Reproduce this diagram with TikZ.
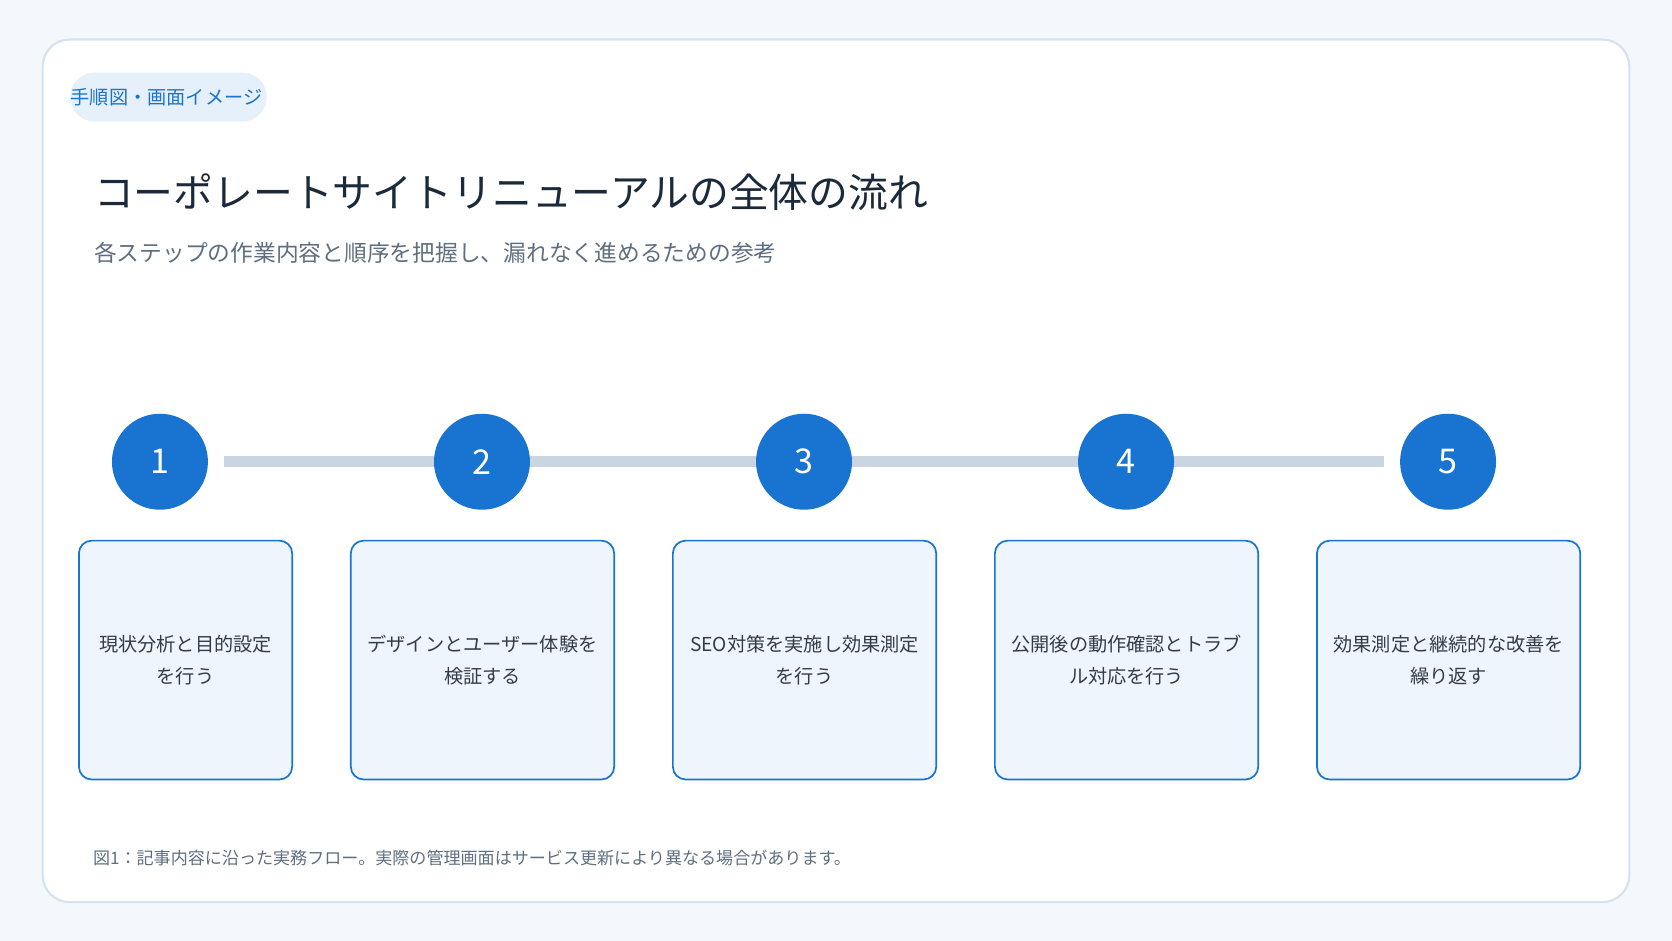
\documentclass[tikz,border=0pt]{standalone}
\usepackage{fontspec}
\setmainfont{Noto Sans CJK JP}
\definecolor{bg}{HTML}{F4F8FC}
\definecolor{cardborder}{HTML}{D6E2EE}
\definecolor{pill}{HTML}{E6F0FA}
\definecolor{blue}{HTML}{1874D0}
\definecolor{titlec}{HTML}{1B2A3A}
\definecolor{subc}{HTML}{5F6F80}
\definecolor{linec}{HTML}{C9D6E2}
\definecolor{boxfill}{HTML}{EEF5FD}
\definecolor{boxtext}{HTML}{333D48}
\begin{document}
\begin{tikzpicture}[x=0.75pt,y=-0.75pt,
  stepnode/.style={circle,fill=blue,minimum size=67.5pt,inner sep=0pt,text=white,font=\fontsize{24}{28}\selectfont},
  box/.style={draw=blue,line width=1.2pt,fill=boxfill,rounded corners=9pt,text=boxtext,align=center,font=\fontsize{13.5}{22}\selectfont},
]
\fill[bg] (0,0) rectangle (1568,882);
\useasboundingbox (0,0) rectangle (1568,882);
\draw[cardborder,fill=white,line width=1.5pt,rounded corners=19pt] (40,37) rectangle (1528,846);
\fill[pill,rounded corners=17pt] (66,68) rectangle (250,114);
\node[anchor=west,inner sep=0pt,text=blue,font=\fontsize{13.5}{16}\selectfont] (tag) at (66,91) {手順図・画面イメージ};
\node[anchor=west,inner sep=0pt,text=titlec,font=\fontsize{28}{32}\selectfont] (title) at (88,180) {コーポレートサイトリニューアルの全体の流れ};
\node[anchor=west,inner sep=0pt,text=subc,font=\fontsize{16}{20}\selectfont] (sub) at (88,237) {各ステップの作業内容と順序を把握し、漏れなく進めるための参考};
\coordinate (ls) at (210,433); \coordinate (le) at (1298,433);
\draw[linec,line width=7.5pt] (ls) -- (le);
\foreach \i/\x/\l/\r/\t in {1/150/74/274/{現状分析と目的設定\\を行う},2/452/329/576/{デザインとユーザー体験を\\検証する},3/754/631/878/{SEO対策を実施し効果測定\\を行う},4/1056/933/1180/{公開後の動作確認とトラブ\\ル対応を行う},5/1358/1235/1482/{効果測定と継続的な改善を\\繰り返す}}{
  \node[stepnode] (c\i) at (\x,433) {\i};
  \pgfmathsetmacro\w{(\r-\l)*0.75}
  \node[box,minimum width=\w pt,minimum height=168pt] (b\i) at ({(\l+\r)/2},619) {\t};
}
\node[anchor=west,inner sep=0pt,text=subc,font=\fontsize{12}{14}\selectfont] (cap) at (87,805) {図1：記事内容に沿った実務フロー。実際の管理画面はサービス更新により異なる場合があります。};
\end{tikzpicture}
\end{document}
